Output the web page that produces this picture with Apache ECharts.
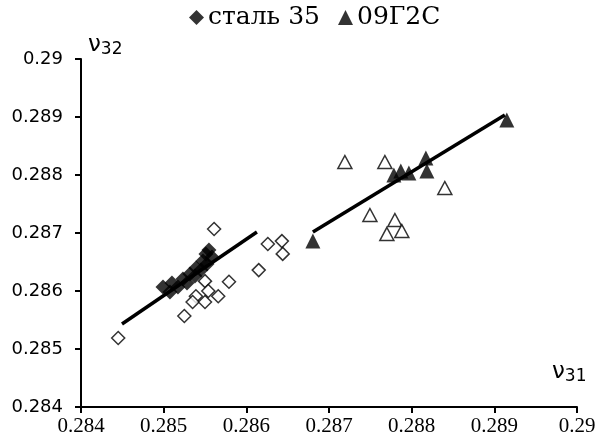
<!DOCTYPE html>
<html>
<head>
<meta charset="utf-8">
<script src="https://cdn.jsdelivr.net/npm/echarts@6/dist/echarts.min.js"></script>
<style>
  html, body { margin: 0; padding: 0; background: #fff; }
  #chart { width: 601px; height: 445px; }
</style>
</head>
<body>
<div id="chart"></div>
<script>
// Poisson ratios nu31 (x) vs nu32 (y)
const xTicks = [0.284, 0.285, 0.286, 0.287, 0.288, 0.289, 0.29];
const xTickLabels = ['0.284', '0.285', '0.286', '0.287', '0.288', '0.289', '0.29'];
const yTicks = [0.284, 0.285, 0.286, 0.287, 0.288, 0.289, 0.29];
const yTickLabels = ['0.284', '0.285', '0.286', '0.287', '0.288', '0.289', '0.29'];

const legendNames = ['сталь 35', '09Г2С'];

// сталь 35, filled markers
const steel35Main = [
  [0.284992, 0.286069], [0.285076, 0.285983], [0.285100, 0.286138], [0.285173, 0.286069],
  [0.285233, 0.286207], [0.285282, 0.286138], [0.285318, 0.286293], [0.285378, 0.286259],
  [0.285391, 0.286397], [0.285451, 0.286362], [0.285475, 0.286517], [0.285524, 0.286466],
  [0.285511, 0.286638], [0.285584, 0.286586], [0.285548, 0.286707]
];
// сталь 35, open markers
const steel35Open = [
  [0.28561, 0.28707], [0.28626, 0.28681], [0.28643, 0.28686], [0.28644, 0.28664],
  [0.28615, 0.28636], [0.28579, 0.28616], [0.28550, 0.28617], [0.28554, 0.28600],
  [0.28539, 0.28591], [0.28566, 0.28591], [0.28535, 0.28581], [0.28550, 0.28581],
  [0.28525, 0.28557], [0.28445, 0.28519]
];
// сталь 35 trend line end points
const steel35TrendX = [0.284496, 0.286128];
const steel35TrendY = [0.285431, 0.287017];

// 09Г2С, filled markers
const g2sMain = [
  [0.286805, 0.286862], [0.287785, 0.288000], [0.287869, 0.288069], [0.287966, 0.288034],
  [0.288172, 0.288293], [0.288184, 0.288069], [0.289151, 0.288948]
];
// 09Г2С, open markers
const g2sOpen = [
  [0.287192, 0.288224], [0.287676, 0.288224], [0.287495, 0.287310], [0.287797, 0.287224],
  [0.287700, 0.286983], [0.287881, 0.287034], [0.288401, 0.287776]
];
// 09Г2С trend line end points
const g2sTrendX = [0.286805, 0.289127];
const g2sTrendY = [0.287017, 0.289034];

function tickLabel(ticks, labels) {
  return function (v) {
    for (let i = 0; i < ticks.length; i++) {
      if (Math.abs(ticks[i] - v) < 1e-7) return labels[i];
    }
    return '';
  };
}

const chart = echarts.init(document.getElementById('chart'), null, { renderer: 'canvas' });

const openStyle = { color: '#ffffff', borderColor: '#000000', borderWidth: 1.5 };
const fillStyle = { color: '#000000', borderColor: '#000000', borderWidth: 0 };

chart.setOption({
  animation: false,
  backgroundColor: '#ffffff',
  grid: { left: 81, right: 24, top: 59, bottom: 38, containLabel: false },
  legend: {
    data: [
      { name: legendNames[0], icon: 'diamond' },
      { name: legendNames[1], icon: 'triangle' }
    ],
    left: 189,
    top: 5,
    itemWidth: 15,
    itemHeight: 15,
    itemGap: 18,
    padding: 0,
    textStyle: { fontFamily: 'DejaVu Serif', fontSize: 25, color: '#000', padding: [0, 0, 0, -1] }
  },
  xAxis: {
    type: 'value',
    min: 0.284,
    max: 0.29,
    interval: 0.001,
    axisLine: { show: true, onZero: false, lineStyle: { color: '#000', width: 2 } },
    axisTick: { show: true, length: 6, lineStyle: { color: '#000', width: 2 } },
    splitLine: { show: false },
    axisLabel: {
      margin: 9,
      color: '#000',
      fontFamily: 'Liberation Serif',
      fontSize: 21,
      formatter: tickLabel(xTicks, xTickLabels)
    }
  },
  yAxis: {
    type: 'value',
    min: 0.284,
    max: 0.29,
    interval: 0.001,
    axisLine: { show: true, onZero: false, lineStyle: { color: '#000', width: 2 } },
    axisTick: { show: true, length: 6, lineStyle: { color: '#000', width: 2 } },
    splitLine: { show: false },
    axisLabel: {
      margin: 18,
      color: '#000',
      fontFamily: 'DejaVu Sans',
      fontSize: 18,
      formatter: tickLabel(yTicks, yTickLabels)
    }
  },
  graphic: [
    {
      type: 'text', left: 88, top: 34,
      style: {
        text: '{a|ν}{b|32}',
        rich: {
          a: { fontFamily: 'DejaVu Sans', fontSize: 23, fill: '#000' },
          b: { fontFamily: 'DejaVu Sans', fontSize: 17, fill: '#000', padding: [8, 0, 0, 0] }
        }
      }
    },
    {
      type: 'text', left: 552, top: 361,
      style: {
        text: '{a|ν}{b|31}',
        rich: {
          a: { fontFamily: 'DejaVu Sans', fontSize: 23, fill: '#000' },
          b: { fontFamily: 'DejaVu Sans', fontSize: 17, fill: '#000', padding: [8, 0, 0, 0] }
        }
      }
    }
  ],
  series: [
    {
      name: 'сталь 35 (о)', type: 'scatter', symbol: 'diamond', symbolSize: [13, 13],
      itemStyle: openStyle, data: steel35Open, z: 2
    },
    {
      name: '09Г2С (о)', type: 'scatter', symbol: 'triangle', symbolSize: [14, 13],
      itemStyle: openStyle, data: g2sOpen, z: 2
    },
    {
      name: 'trend-steel35', type: 'line', symbol: 'none', silent: true,
      lineStyle: { color: '#000', width: 3.5 },
      data: steel35TrendX.map((x, i) => [x, steel35TrendY[i]]), z: 3
    },
    {
      name: 'trend-g2s', type: 'line', symbol: 'none', silent: true,
      lineStyle: { color: '#000', width: 3.5 },
      data: g2sTrendX.map((x, i) => [x, g2sTrendY[i]]), z: 3
    },
    {
      name: legendNames[0], type: 'scatter', symbol: 'diamond', symbolSize: [15, 15],
      itemStyle: fillStyle, data: steel35Main, z: 4
    },
    {
      name: legendNames[1], type: 'scatter', symbol: 'triangle', symbolSize: [15, 15],
      itemStyle: fillStyle, data: g2sMain, z: 4
    }
  ]
});
</script>
</body>
</html>
